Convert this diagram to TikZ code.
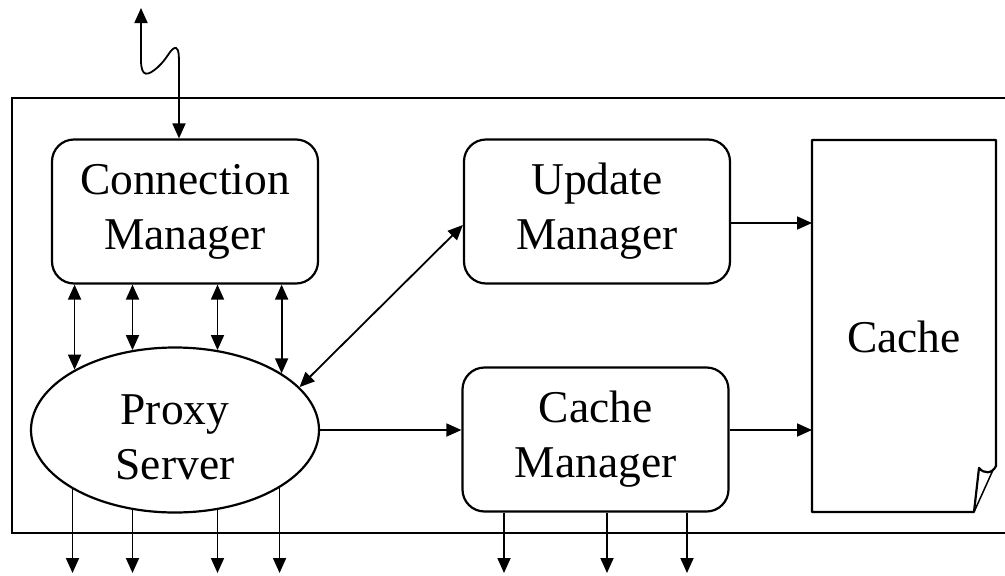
\documentclass[tikz,border=0pt]{standalone}
\usepackage{fontspec}
\setmainfont{Liberation Serif}
\usetikzlibrary{arrows.meta,shapes.geometric}
\begin{document}
\begin{tikzpicture}[x=1pt,y=-1pt,
  lbl/.style={font=\fontsize{45.5}{55}\selectfont,align=center},
  box/.style={lbl,draw,line width=2.2pt,rounded corners=22pt,minimum width=266pt,minimum height=144pt,inner sep=0pt},
  tip/.tip={Triangle[length=15pt,width=13pt]},
  conn/.style={line width=1.8pt,-tip},
  bi/.style={line width=1.8pt,tip-tip}]
\useasboundingbox (0,0) rectangle (1005,576);
% outer frame
\draw[line width=2.2pt] (12,98) rectangle (1014,533);
% nodes
\node[box] (CM) at (185,211.5) {Connection\\Manager};
\node[box] (UM) at (597,211.5) {Update\\Manager};
\node[box] (CMg) at (595.5,439.5) {Cache\\Manager};
\node[ellipse,draw,line width=2.2pt,minimum width=288pt,minimum height=165pt,inner sep=0pt] (P) at (175,430) {};
\node[lbl] (Pt) at ([yshift=-7pt]P.center) {Proxy\\Server};
\node[minimum width=184pt,minimum height=372pt,inner sep=0pt,outer sep=0pt] (C) at (904,326) {};
\node[lbl] (Ct) at ([yshift=-11pt]C.center) {Cache};
% cache document with folded corner
\draw[line width=2.2pt,line join=round] (C.north west) -- (C.north east) -- (996,466)
  .. controls (992,474) and (984,474) .. (979,468) -- (974,512) -- (C.south west) -- cycle;
\draw[line width=1.5pt] (993,470) -- (974,512);
% squiggle link
\coordinate (sq) at (141,8);
\draw[bi] (sq) -- (141,60) .. controls (141,78) and (148,76) .. (158,67)
  .. controls (168,58) and (171,47) .. (176,48) .. controls (179,49) and (179,56) .. (179,68)
  -- ([xshift=-6pt]CM.north);
% CM <-> Proxy
\foreach \a in {149.8,118,62,28.8}
  \draw[bi] (P.\a |- CM.south) -- (P.\a);
% Proxy down
\coordinate (o) at (0,573);
\foreach \a in {210.2,242,298,331.2}
  \draw[conn] (P.\a) -- (P.\a |- o);
% Cache manager down
\foreach \s in {-91.5,11.5,91.5}
  \draw[conn] ([xshift=\s pt]CMg.south) -- ([xshift=\s pt]CMg.south |- o);
% other links
\draw[bi] (P.19.5) -- ([yshift=-13.5pt]UM.west);
\draw[conn] (P.east) -- (P.east -| CMg.west);
\draw[conn] ([yshift=-11.5pt]UM.east) -- ([yshift=-11.5pt]UM.east -| C.west);
\draw[conn] ([yshift=9.5pt]CMg.east) -- ([yshift=9.5pt]CMg.east -| C.west);
\end{tikzpicture}
\end{document}
